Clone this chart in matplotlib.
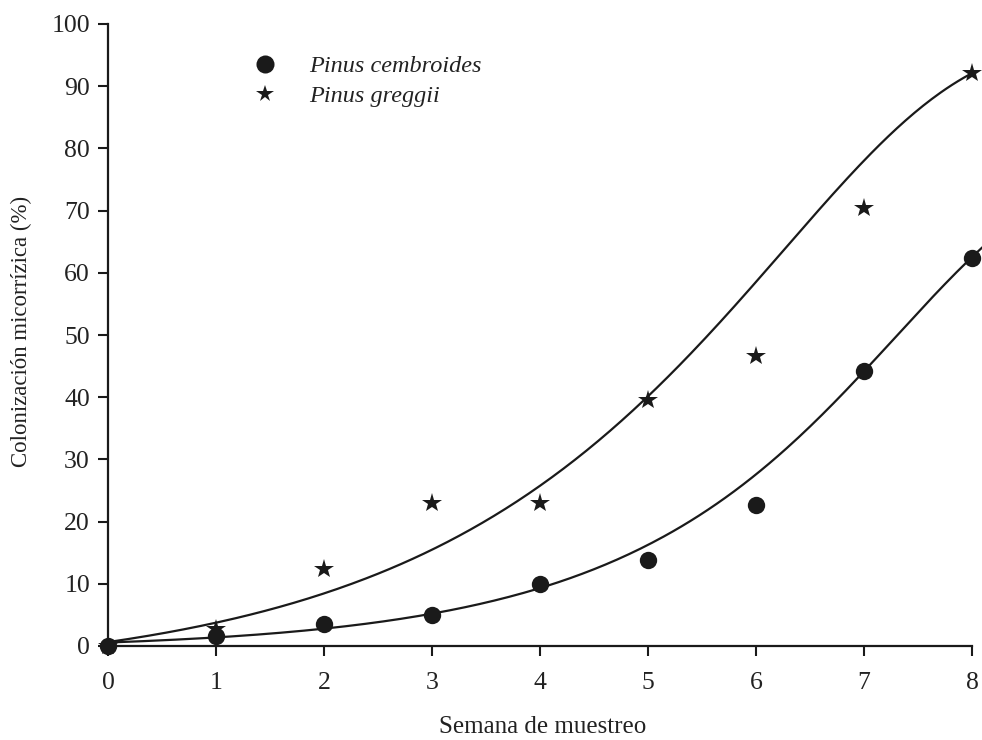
import numpy as np
import matplotlib
matplotlib.use("Agg")
import matplotlib.pyplot as plt

# ---------------- data ----------------
weeks = [0, 1, 2, 3, 4, 5, 6, 7, 8]
cembroides = [0.0, 1.6, 3.5, 5.0, 10.0, 13.9, 22.7, 44.2, 62.3]
greggii = [0.0, 2.7, 12.4, 23.0, 23.0, 39.5, 46.6, 70.4, 92.2]

series_labels = ["Pinus cembroides", "Pinus greggii"]
xticks = [0, 1, 2, 3, 4, 5, 6, 7, 8]
yticks = [0, 10, 20, 30, 40, 50, 60, 70, 80, 90, 100]
xlabel = "Semana de muestreo"
ylabel = "Colonización micorrízica (%)"

# fitted sigmoid models shown in the figure (parameters estimated from the drawn curves)
# P. cembroides: y = y0 + a / (1 + exp(-(x - x0)/b))**c
cemb_y0, cemb_a, cemb_x0, cemb_b, cemb_c = -0.5936, 83.9778, 7.9644, 0.7903, 0.4255
# P. greggii:   y = y0 + a * (1 - exp(-exp(k (x - m))))**q
gregg_y0, gregg_a, gregg_k, gregg_m, gregg_q = -5.3629, 102.4597, 0.7227, 6.7336, 0.5829


def cemb_model(x):
    return cemb_y0 + cemb_a / (1.0 + np.exp(-(x - cemb_x0) / cemb_b)) ** cemb_c


def gregg_model(x):
    return gregg_y0 + gregg_a * (1.0 - np.exp(-np.exp(gregg_k * (x - gregg_m)))) ** gregg_q


# ---------------- figure ----------------
plt.rcParams["font.family"] = ["Liberation Serif", "DejaVu Serif"]
W, H = 982, 740
fig = plt.figure(figsize=(W / 100, H / 100), dpi=100)

x0_px, x8_px = 108, 972
y0_px, y100_px = 646, 24
px_per_x = (x8_px - x0_px) / 8.0
xmax = 8 + (W - x8_px) / px_per_x
ax = fig.add_axes([x0_px / W, 1 - y0_px / H, (W - x0_px) / W, (y0_px - y100_px) / H])
ax.set_xlim(0, xmax)
ax.set_ylim(0, 100)

ink = "#1a1a1a"
txt = "#222222"

xs_c = np.linspace(0, 8.1, 300)
xs_g = np.linspace(0, 8.03, 300)
ax.plot(xs_c, cemb_model(xs_c), color=ink, lw=1.6, zorder=2, clip_on=False)
ax.plot(xs_g, gregg_model(xs_g), color=ink, lw=1.6, zorder=2, clip_on=False)

ax.plot(weeks, greggii, linestyle="none", marker="*", markersize=15,
        color=ink, markeredgewidth=0, zorder=3, clip_on=False,
        label=series_labels[1])
ax.plot(weeks, cembroides, linestyle="none", marker="o", markersize=12.5,
        color=ink, markeredgewidth=0, zorder=4, clip_on=False,
        label=series_labels[0])

# spines / ticks
for s in ["top", "right"]:
    ax.spines[s].set_visible(False)
for s in ["left", "bottom"]:
    ax.spines[s].set_linewidth(1.6)
    ax.spines[s].set_color(ink)
ax.spines["bottom"].set_bounds(0, 8)

ax.set_xticks(xticks)
ax.set_yticks(yticks)
ax.tick_params(axis="both", direction="out", length=7, width=1.5, color=ink,
               labelsize=18.5, labelcolor=txt)
ax.tick_params(axis="x", pad=12)
ax.tick_params(axis="y", pad=6)

fig.text(543 / W, 1 - 727 / H, xlabel, ha="center", va="center",
         fontsize=18, color=txt)
fig.text(21 / W, 1 - 331 / H, ylabel, ha="center", va="center",
         rotation=90, fontsize=16.5, color=txt)

# legend
handles, labels = ax.get_legend_handles_labels()
order = [1, 0]
leg = ax.legend([handles[i] for i in order], [labels[i] for i in order],
                loc="upper left", bbox_to_anchor=(253 / W, 1 - 55 / H),
                bbox_transform=fig.transFigure, frameon=False,
                handlelength=1.0, handletextpad=1.3, labelspacing=0.34,
                borderpad=0, borderaxespad=0, numpoints=1,
                prop={"family": ["Liberation Serif"], "style": "italic", "size": 17.5})
for t in leg.get_texts():
    t.set_color(txt)
leg.legend_handles[0].set_markersize(13)
leg.legend_handles[1].set_markersize(13)

fig.savefig("out.png", dpi=100)
